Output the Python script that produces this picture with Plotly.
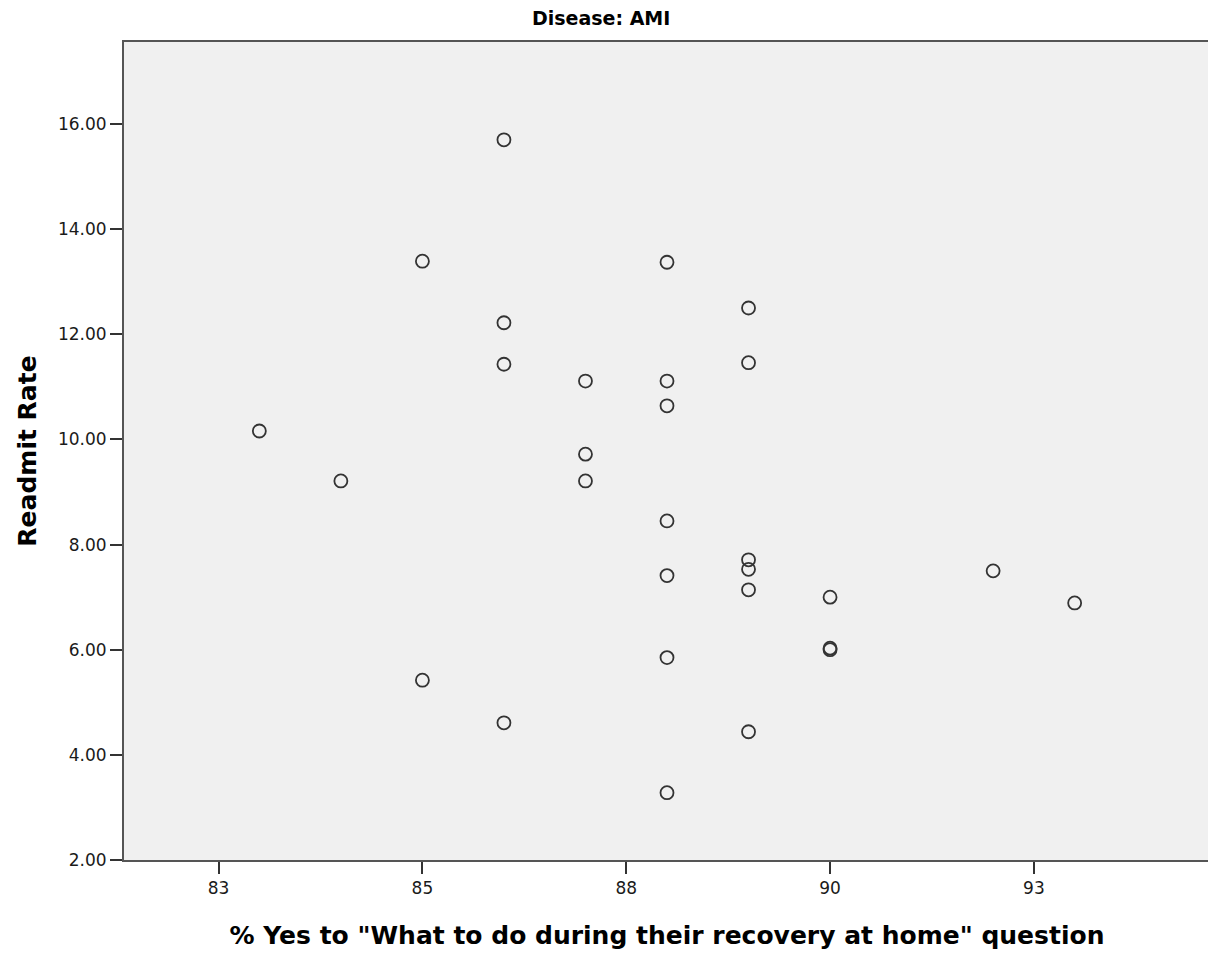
import plotly.graph_objects as go

# % Yes answers (x) and readmission rate (y) for each hospital
pct_yes = [83, 84, 85, 85, 86, 86, 86, 86,
           87, 87, 87,
           88, 88, 88, 88, 88, 88, 88,
           89, 89, 89, 89, 89, 89,
           90, 90, 90, 92, 93]
readmit_rate = [10.16, 9.21, 13.39, 5.42, 15.70, 12.22, 11.43, 4.61,
                11.11, 9.72, 9.21,
                13.37, 11.11, 10.64, 8.45, 7.41, 5.85, 3.28,
                12.50, 11.46, 7.71, 7.53, 7.14, 4.44,
                7.00, 6.03, 6.00, 7.50, 6.89]

# x ticks sit at half steps, labels shown rounded
x_tickvals = [82.5, 85, 87.5, 90, 92.5]
x_ticktext = ['83', '85', '88', '90', '93']
y_tickvals = [2, 4, 6, 8, 10, 12, 14, 16]

fig = go.Figure()
fig.add_trace(go.Scatter(
    x=pct_yes, y=readmit_rate, mode='markers',
    marker=dict(symbol='circle-open', size=13, color='#333333',
                line=dict(width=1.8, color='#333333')),
    showlegend=False, hoverinfo='x+y'))

axis_font = dict(family='DejaVu Sans, Arial, sans-serif', size=17, color='#1a1a1a')
title_font = dict(family='DejaVu Sans, Arial, sans-serif', size=25, color='black')

# page body adds 8px, so the figure is 8px smaller than the window
fig.update_layout(
    width=1208, height=945,
    margin=dict(l=116, r=4, t=34, b=93),
    paper_bgcolor='white', plot_bgcolor='#f0f0f0',
    title=dict(text='<b>Disease: AMI</b>', x=0.491, xanchor='center',
               y=1 - 10 / 945, yanchor='middle', yref='container',
               font=dict(family='DejaVu Sans, Arial, sans-serif', size=19, color='black')),
)
fig.update_xaxes(
    range=[81.34, 94.66], tickvals=x_tickvals, ticktext=x_ticktext,
    ticks='outside', ticklen=12, tickwidth=2, tickcolor='#333333',
    showline=True, mirror=True, linecolor='#555555', linewidth=2,
    showgrid=False, zeroline=False, tickfont=axis_font,
    title=dict(text='<b>% Yes to "What to do during their recovery at home" question</b>',
               font=title_font, standoff=29))
fig.update_yaxes(
    range=[2, 17.56], tickvals=y_tickvals, tickformat='.2f',
    ticks='outside', ticklen=12, tickwidth=2, tickcolor='#333333',
    showline=True, mirror=True, linecolor='#555555', linewidth=2,
    showgrid=False, zeroline=False, tickfont=axis_font,
    title=dict(text='<b>Readmit Rate</b>', font=title_font, standoff=14))

fig.write_html('out.html')
